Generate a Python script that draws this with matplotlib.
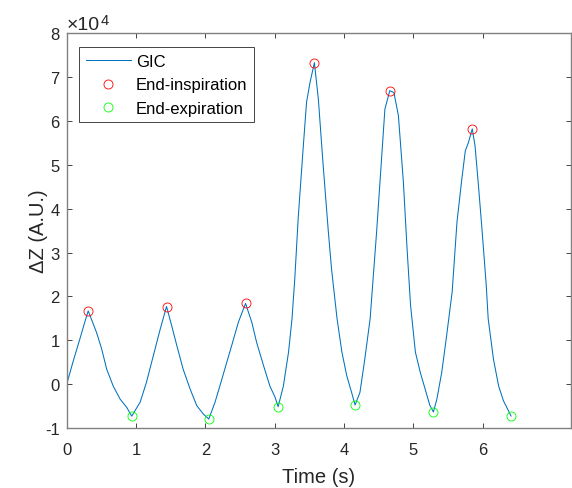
import matplotlib
matplotlib.use("Agg")
import matplotlib.pyplot as plt
from matplotlib.ticker import FuncFormatter

plt.rcParams['font.family'] = ['Liberation Sans', 'DejaVu Sans']

# GIC signal (time in s, impedance change in A.U.)
t = [0.00, 0.095, 0.19, 0.26, 0.31, 0.43, 0.505, 0.577, 0.67, 0.77, 0.866, 0.938,
     1.06, 1.15, 1.25, 1.35, 1.44, 1.515, 1.59, 1.68, 1.78, 1.876, 1.97, 2.05,
     2.14, 2.21, 2.28, 2.38, 2.476, 2.58, 2.67, 2.74, 2.84, 2.93, 3.006, 3.05,
     3.126, 3.20, 3.25, 3.29, 3.34, 3.41, 3.46, 3.51, 3.573, 3.63, 3.70, 3.775,
     3.82, 3.90, 3.97, 4.04, 4.11, 4.16, 4.23, 4.30, 4.377, 4.40, 4.47, 4.535,
     4.59, 4.66, 4.72, 4.785, 4.857, 4.91, 4.96, 5.03, 5.10, 5.17, 5.24, 5.29,
     5.34, 5.41, 5.48, 5.56, 5.63, 5.70, 5.75, 5.795, 5.85, 5.89, 5.94, 5.99,
     6.05, 6.08, 6.156, 6.23, 6.30, 6.41]
dz = [0, 5300, 10300, 14100, 16700, 11800, 8000, 3400, -400, -3400, -5300, -7300,
      -4100, 400, 6500, 12600, 17700, 13300, 8700, 3400, -1100, -4900, -6800, -7950,
      -4100, -400, 3400, 8800, 14100, 18400, 14100, 9500, 4200, -400, -3000, -5140,
      -400, 7300, 14900, 24000, 38000, 53600, 64300, 68800, 73300, 65000, 49800, 34600,
      26300, 14900, 7300, 1900, -1900, -4760, -1900, 5700, 14900, 19800, 34600, 49800,
      62700, 66900, 66500, 61200, 46000, 30800, 18000, 7300, 2700, -1100, -4900, -6350,
      -3400, 2700, 11000, 21000, 37000, 46800, 53200, 55100, 58200, 54400, 45200, 35400,
      23000, 14900, 5700, -400, -3800, -7260]

# detected end-inspiration / end-expiration points
t_insp = [0.31, 1.44, 2.58, 3.573, 4.66, 5.85]
dz_insp = [16700, 17700, 18400, 73300, 66900, 58200]
t_exp = [0.938, 2.05, 3.05, 4.16, 5.29, 6.41]
dz_exp = [-7300, -7950, -5140, -4760, -6350, -7260]

fig = plt.figure(figsize=(5.72, 4.89), dpi=100)
ax = fig.add_axes([0.1166, 0.1227, 0.8811, 0.8072])

ax.plot(t, dz, color='#0072BD', lw=0.75, label='GIC')
ax.plot(t_insp, dz_insp, 'o', mfc='none', mec='red', ms=6.5, mew=0.6,
        label='End-inspiration')
ax.plot(t_exp, dz_exp, 'o', mfc='none', mec='#00FF00', ms=6.5, mew=0.6,
        label='End-expiration')

ax.set_xlim(0, 7.27)
ax.set_ylim(-10000, 80000)
ax.set_xticks([0, 1, 2, 3, 4, 5, 6])
ax.set_yticks([i * 10000 for i in range(-1, 9)])
ax.yaxis.set_major_formatter(FuncFormatter(lambda v, p: f'{v / 1e4:g}'))

axcol = '#262626'
for s in ax.spines.values():
    s.set_color('#808080')
    s.set_linewidth(1.0)
ax.tick_params(direction='in', top=True, right=True, length=3.8, width=0.6,
               colors=axcol, labelsize=12)
ax.tick_params(axis='x', pad=10)
ax.tick_params(axis='y', pad=5)

# exponent label like MATLAB's
base = ax.annotate('×10', xy=(0, 1), xycoords='axes fraction', xytext=(0, 3),
                   textcoords='offset points', fontsize=14, color=axcol,
                   ha='left', va='baseline')
ax.annotate('4', xy=(1, 1), xycoords=base, xytext=(0.3, -6), textcoords='offset points',
            fontsize=10.5, color=axcol, ha='left', va='baseline')

ax.set_xlabel('Time (s)', fontsize=14.5, color=axcol, labelpad=7)
ax.set_ylabel('ΔZ (A.U.)', fontsize=14.5, color=axcol, labelpad=-2.5)

leg = ax.legend(loc='upper left', bbox_to_anchor=(0.0244, 0.964), borderaxespad=0,
                fontsize=12, fancybox=False, framealpha=1, edgecolor=axcol,
                handlelength=2.7, handletextpad=0.3, borderpad=0.4,
                labelspacing=0.5)
leg.get_frame().set_linewidth(0.6)

fig.savefig('out.png', dpi=100)
